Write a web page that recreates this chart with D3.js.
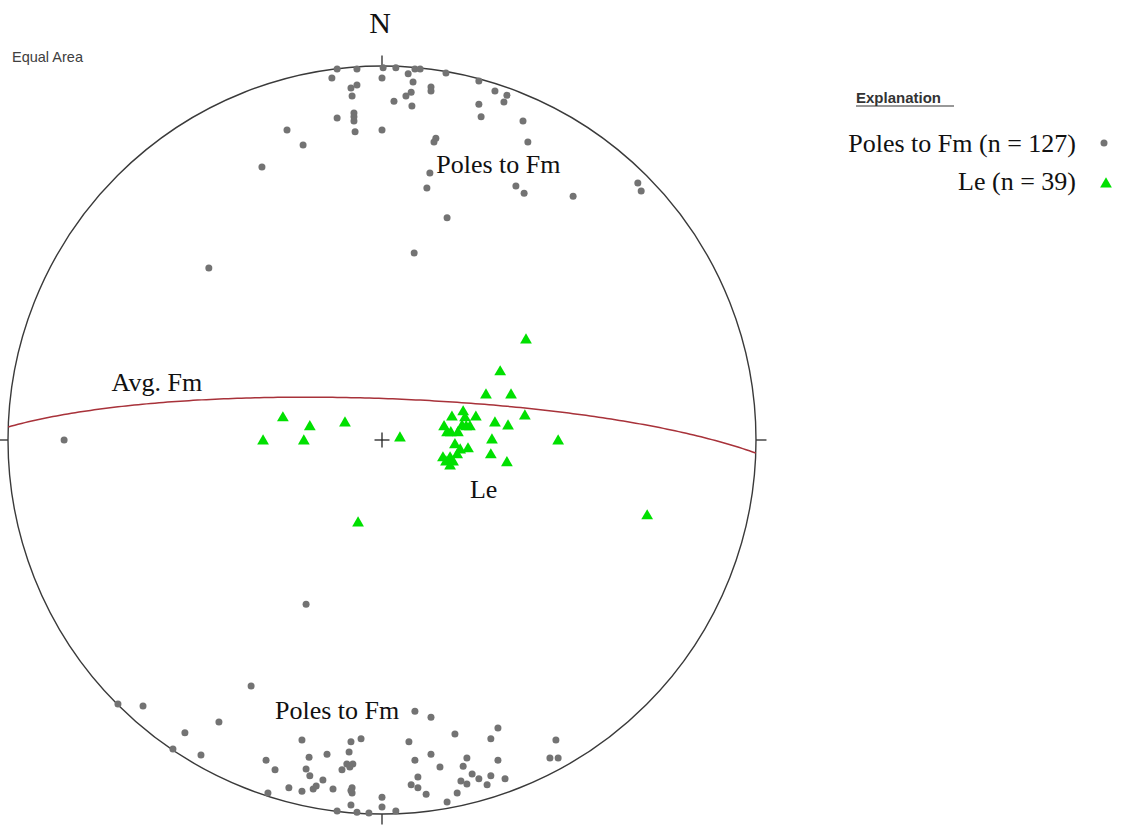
<!DOCTYPE html>
<html>
<head>
<meta charset="utf-8">
<script src="https://cdn.jsdelivr.net/npm/d3@7"></script>
<style>
  html, body { margin: 0; padding: 0; background: #ffffff; }
  svg { display: block; }
</style>
</head>
<body>
<svg id="chart" width="1121" height="825"></svg>
<script>
// ---- Data (projected net coordinates, unit circle: x = east, y = north) ----
const polesX = [
  -0.120,-0.134,-0.067,0.003,0.000,0.037,0.070,0.088,0.102,0.083,0.171,0.259,-0.067,-0.083,-0.080,
  0.131,0.131,0.078,0.064,0.032,0.080,0.302,0.334,0.326,0.259,0.265,0.377,0.390,-0.075,-0.075,
  -0.072,-0.120,0.000,-0.254,-0.211,-0.321,0.144,0.139,0.128,0.120,0.358,0.380,0.174,0.511,0.684,
  0.693,-0.463,0.086,-0.850,-0.203,-0.350,-0.706,-0.639,-0.436,-0.527,-0.559,-0.484,-0.214,-0.083,-0.056,
  -0.310,-0.195,-0.147,-0.088,-0.286,-0.203,-0.193,-0.158,-0.107,-0.094,-0.078,-0.086,-0.249,-0.214,-0.184,
  -0.176,-0.131,-0.080,-0.080,-0.305,-0.083,-0.120,-0.067,-0.035,0.088,0.131,0.072,0.195,0.310,0.291,
  0.465,0.449,0.471,0.131,0.088,0.227,0.310,0.155,0.217,0.096,0.078,0.096,0.118,0.241,0.259,
  0.291,0.329,0.211,0.227,0.281,0.201,0.174,0.000,0.000,0.037,-0.075,-0.083
];
const polesY = [
  0.992,0.968,0.992,0.995,0.968,0.995,0.979,0.992,0.992,0.957,0.981,0.960,0.949,0.941,0.920,
  0.944,0.933,0.930,0.920,0.906,0.893,0.933,0.922,0.904,0.898,0.864,0.853,0.797,0.874,0.853,
  0.824,0.861,0.829,0.829,0.789,0.730,0.807,0.797,0.714,0.674,0.679,0.660,0.594,0.652,0.687,
  0.666,0.460,0.500,0.000,-0.439,-0.658,-0.706,-0.711,-0.754,-0.783,-0.826,-0.842,-0.802,-0.807,-0.799,
  -0.856,-0.848,-0.840,-0.834,-0.882,-0.880,-0.898,-0.909,-0.882,-0.866,-0.866,-0.874,-0.930,-0.939,-0.933,
  -0.925,-0.933,-0.930,-0.944,-0.944,-0.976,-0.992,-0.995,-0.997,-0.725,-0.741,-0.807,-0.786,-0.770,-0.799,
  -0.802,-0.850,-0.850,-0.840,-0.856,-0.850,-0.856,-0.874,-0.872,-0.901,-0.922,-0.930,-0.947,-0.893,-0.906,
  -0.898,-0.906,-0.912,-0.920,-0.922,-0.944,-0.968,-0.955,-0.981,-0.992,0.864,-0.937
];
const leX = [
  0.385,0.316,0.278,0.345,0.382,-0.265,-0.193,-0.099,-0.318,-0.209,0.048,0.471,0.187,
  0.217,0.222,0.251,0.166,0.235,0.302,0.337,0.184,0.203,0.294,0.209,0.230,0.163,
  0.182,0.190,0.182,0.291,0.334,0.201,-0.064,0.709,0.225,0.174,0.214,0.195,0.171
];
const leY = [
  0.267,0.182,0.120,0.120,0.064,0.059,0.035,0.045,-0.003,-0.003,0.005,-0.003,0.061,
  0.075,0.059,0.061,0.035,0.035,0.045,0.037,0.019,0.019,0.000,-0.027,-0.024,-0.048,
  -0.048,-0.059,-0.070,-0.040,-0.061,-0.040,-0.222,-0.203,0.035,0.019,0.037,-0.013,-0.059
];
// Average Fm plane: [dip direction, dip] in degrees
const avgFmPlane = [2, 81];
const legendLabels = ["Poles to Fm (n = 127)", "Le (n = 39)"];
const plotLabels = [
  { text: "Poles to Fm", nx: 0.145, ny: 0.714 },
  { text: "Poles to Fm", nx: -0.286, ny: -0.747 },
  { text: "Avg. Fm", nx: -0.723, ny: 0.131 },
  { text: "Le", nx: 0.235, ny: -0.155 }
];

// ---- Layout ----
const cx = 382, cy = 440, R = 374;
const svg = d3.select("#chart");
const xS = d3.scaleLinear().domain([-1, 1]).range([cx - R, cx + R]);
const yS = d3.scaleLinear().domain([-1, 1]).range([cy + R, cy - R]);
const serif = "'Liberation Serif', 'Times New Roman', serif";
const sans = "'Liberation Sans', Arial, sans-serif";

// Primitive circle
svg.append("circle").attr("cx", xS(0)).attr("cy", yS(0)).attr("r", xS(1) - xS(0))
  .attr("fill", "none").attr("stroke", "#3a3a3a").attr("stroke-width", 1.4);

// Ticks at N, E, S, W
const tickLen = 0.028;
[[0, 1, 0, 1 + tickLen], [1, 0, 1 + tickLen, 0], [0, -1, 0, -1 - tickLen], [-1, 0, -1 - tickLen, 0]]
  .forEach(t => svg.append("line")
    .attr("x1", xS(t[0])).attr("y1", yS(t[1])).attr("x2", xS(t[2])).attr("y2", yS(t[3]))
    .attr("stroke", "#3a3a3a").attr("stroke-width", 1.4));

// Centre cross
const cr = 0.02;
svg.append("line").attr("x1", xS(-cr)).attr("x2", xS(cr)).attr("y1", yS(0)).attr("y2", yS(0))
  .attr("stroke", "#222").attr("stroke-width", 1.3);
svg.append("line").attr("x1", xS(0)).attr("x2", xS(0)).attr("y1", yS(-cr)).attr("y2", yS(cr))
  .attr("stroke", "#222").attr("stroke-width", 1.3);

// Great circle (equal-area, lower hemisphere)
const rad = Math.PI / 180;
function projectLine(n, e, d) {
  const plunge = Math.asin(Math.max(-1, Math.min(1, d)));
  const trend = Math.atan2(e, n);
  const r = Math.SQRT2 * Math.sin((Math.PI / 2 - plunge) / 2);
  return [r * Math.sin(trend), r * Math.cos(trend)];
}
const dd = avgFmPlane[0] * rad, dip = avgFmPlane[1] * rad;
const sT = dd - Math.PI / 2;
const sv = [Math.cos(sT), Math.sin(sT), 0];
const dv = [Math.cos(dip) * Math.cos(dd), Math.cos(dip) * Math.sin(dd), Math.sin(dip)];
const gc = d3.range(0, 181, 1).map(a => {
  const th = a * rad;
  const n = Math.cos(th) * sv[0] + Math.sin(th) * dv[0];
  const e = Math.cos(th) * sv[1] + Math.sin(th) * dv[1];
  const d = Math.cos(th) * sv[2] + Math.sin(th) * dv[2];
  return projectLine(n, e, d);
});
svg.append("path").datum(gc)
  .attr("d", d3.line().x(p => xS(p[0])).y(p => yS(p[1])))
  .attr("fill", "none").attr("stroke", "#a8323a").attr("stroke-width", 1.5);

// Poles (grey dots)
svg.append("g").selectAll("circle").data(d3.zip(polesX, polesY)).join("circle")
  .attr("cx", d => xS(d[0])).attr("cy", d => yS(d[1])).attr("r", 3.5)
  .attr("fill", "#737373");

// Le (green triangles)
const tri = d3.symbol().type(d3.symbolTriangle).size(60);
svg.append("g").selectAll("path").data(d3.zip(leX, leY)).join("path")
  .attr("d", tri).attr("transform", d => `translate(${xS(d[0])},${yS(d[1])})`)
  .attr("fill", "#00e000");

// Plot labels
svg.append("g").selectAll("text").data(plotLabels).join("text")
  .attr("x", d => xS(d.nx)).attr("y", d => yS(d.ny))
  .attr("font-family", serif).attr("font-size", 26).attr("fill", "#111")
  .text(d => d.text);

// N label
svg.append("text").attr("x", xS(-0.005)).attr("y", 33).attr("text-anchor", "middle")
  .attr("font-family", serif).attr("font-size", 30).attr("fill", "#111").text("N");

// Equal Area
svg.append("text").attr("x", 12).attr("y", 62)
  .attr("font-family", sans).attr("font-size", 14.5).attr("fill", "#404040").text("Equal Area");

// Legend
svg.append("text").attr("x", 856).attr("y", 103)
  .attr("font-family", sans).attr("font-size", 15).attr("font-weight", "bold").attr("fill", "#333")
  .text("Explanation");
svg.append("line").attr("x1", 856).attr("x2", 954).attr("y1", 106).attr("y2", 106)
  .attr("stroke", "#333").attr("stroke-width", 1.2);
const legY = [152, 190];
legendLabels.forEach((t, i) => {
  svg.append("text").attr("x", 1076).attr("y", legY[i]).attr("text-anchor", "end")
    .attr("font-family", serif).attr("font-size", 26).attr("fill", "#111").text(t);
});
svg.append("circle").attr("cx", 1104).attr("cy", 143).attr("r", 3.5).attr("fill", "#737373");
svg.append("path").attr("d", tri).attr("transform", "translate(1106,184)").attr("fill", "#00e000");
</script>
</body>
</html>
